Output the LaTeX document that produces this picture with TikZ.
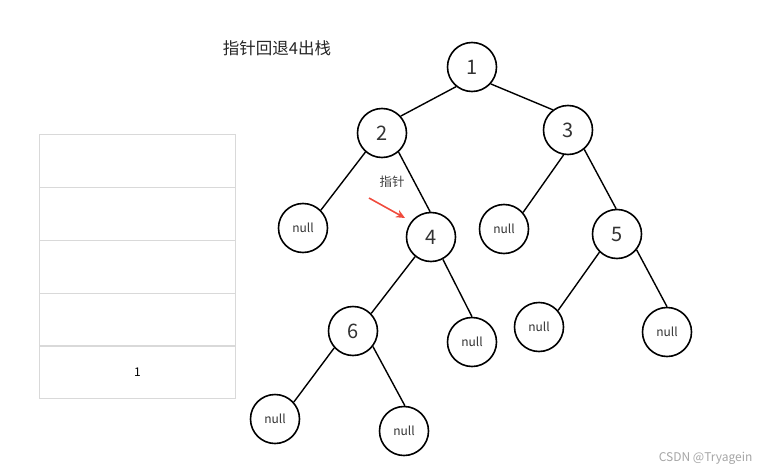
\documentclass[tikz,border=0pt]{standalone}
\usepackage{fontspec}
\setmainfont{Noto Sans CJK SC}
\usetikzlibrary{arrows.meta}
\definecolor{arrowred}{HTML}{F04A3C}
\begin{document}
\begin{tikzpicture}[x=1pt,y=-1pt,
  tn/.style={circle,draw=black,line width=1.6pt,minimum size=49pt,inner sep=0pt,fill=white,font=\fontsize{20}{22}\selectfont,text=black!80},
  nn/.style={circle,draw=black,line width=1.6pt,minimum size=49pt,inner sep=0pt,fill=white,font=\fontsize{12}{14}\selectfont,text=black!80},
  edge/.style={line width=1.4pt,black},
  cell/.style={draw=black!15,line width=1pt,minimum width=196pt,minimum height=53pt,inner sep=0pt,anchor=north west,font=\fontsize{12}{14}\selectfont}]
\useasboundingbox[fill=white] (0,0) rectangle (760,471);
% stack
\node[cell] (s1) at (39,134) {};
\node[cell] (s2) at (39,187) {};
\node[cell] (s3) at (39,240) {};
\node[cell] (s4) at (39,293) {};
\node[cell] (s5) at (39,345) {1};
% tree
\node[tn] (n1) at (472,67) {1};
\node[tn] (n2) at (382,133) {2};
\node[tn] (n3) at (568,130) {3};
\node[nn] (a) at (303,228) {null};
\node[tn] (n4) at (431,237) {4};
\node[nn] (b) at (504,229) {null};
\node[tn] (n5) at (617,234) {5};
\node[tn] (n6) at (353,331) {6};
\node[nn] (c) at (472,342) {null};
\node[nn] (d) at (539,327) {null};
\node[nn] (e) at (667,332) {null};
\node[nn] (f) at (275,419) {null};
\node[nn] (g) at (404,431) {null};
\draw[edge] (n1.-129) -- (n2.42);
\draw[edge] (n1.-42) -- (n3.127);
\draw[edge] (n2.-131) -- (a.45);
\draw[edge] (n2.-49) -- (n4.92);
\draw[edge] (n3.-100) -- (b.41);
\draw[edge] (n3.-50) -- (n5.92);
\draw[edge] (n4.-129) -- (n6.44);
\draw[edge] (n4.-62) -- (c.90);
\draw[edge] (n5.-134) -- (d.41);
\draw[edge] (n5.-39) -- (e.90);
\draw[edge] (n6.-138) -- (f.42);
\draw[edge] (n6.-38) -- (g.88);
% labels
\node[font=\fontsize{16.5}{18}\selectfont,text=black!85] (title) at (277,48) {指针回退4出栈};
\node[font=\fontsize{12.5}{14}\selectfont,text=black!75] (ptr) at (392,182) {指针};
\coordinate (ps) at (369,198);
\coordinate (pe) at (405,218);
\draw[line width=1.6pt,color=arrowred,-{Stealth[length=9pt,width=8pt]}] (ps) -- (pe);
\node[font=\fontsize{12}{14}\selectfont,text=black!35,anchor=east] (wm) at (756,458) {CSDN @Tryagein};
\end{tikzpicture}
\end{document}
